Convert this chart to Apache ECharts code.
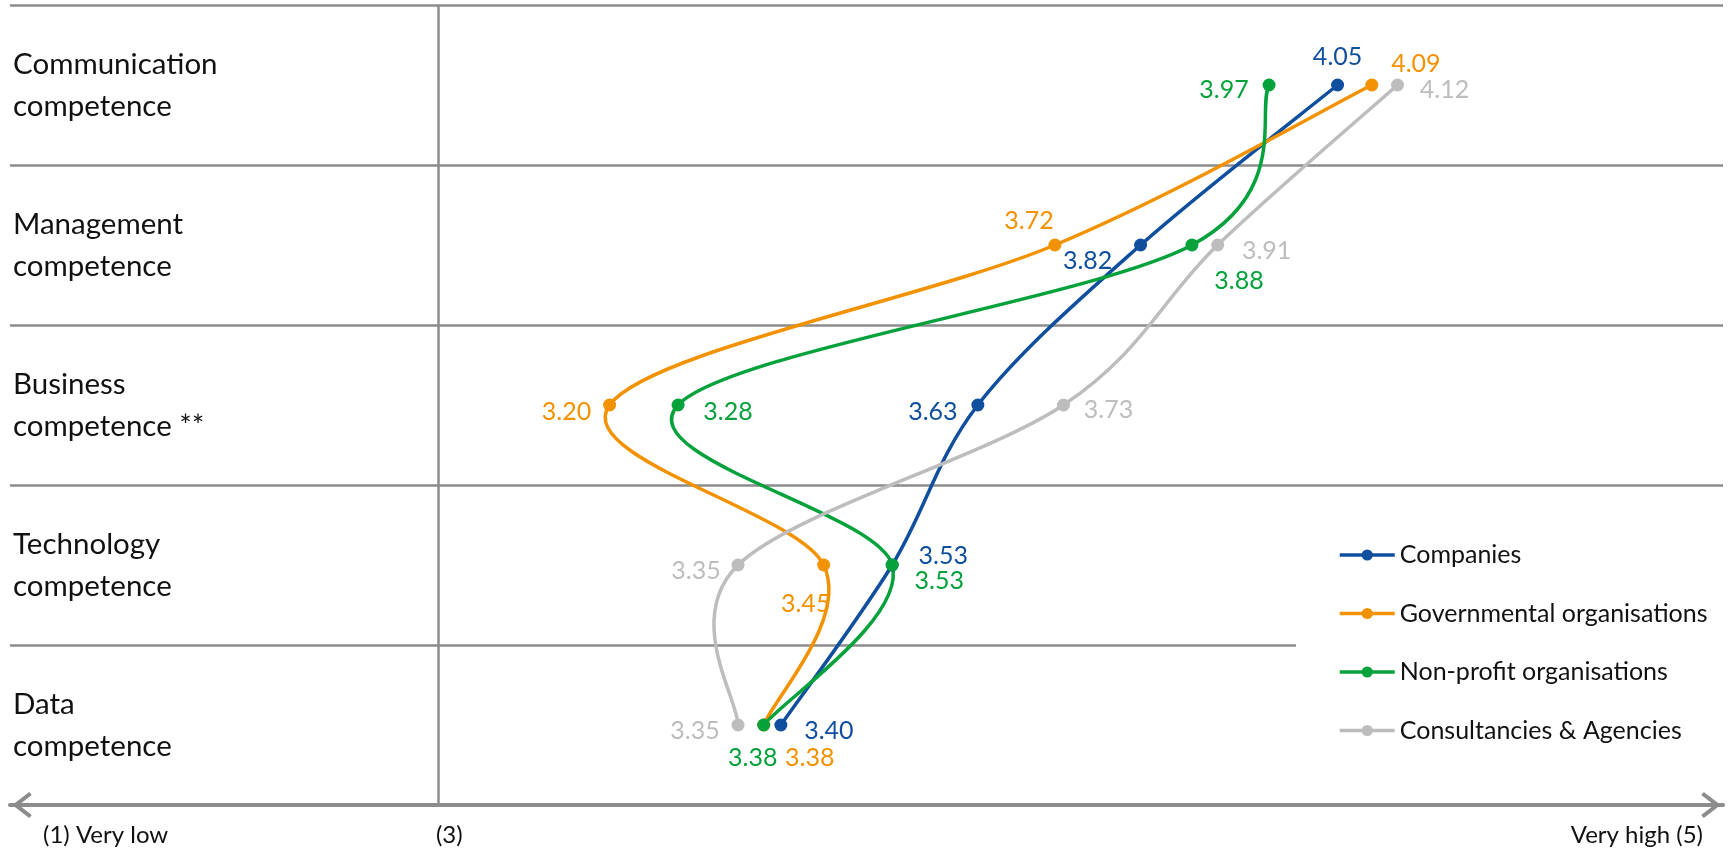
<!DOCTYPE html>
<html>
<head>
<meta charset="utf-8">
<title>Competence profiles by organisation type</title>
<script src="https://cdn.jsdelivr.net/npm/echarts@6/dist/echarts.min.js"></script>
<style>
  html, body { margin: 0; padding: 0; background: #ffffff; }
  #chart { width: 1729px; height: 849px; }
</style>
</head>
<body>
<div id="chart"></div>
<script>
// Competence areas, top to bottom
const categories = [
  'Communication competence',
  'Management competence',
  'Business competence **',
  'Technology competence',
  'Data competence'
];

// Mean self-assessment per organisation type (scale 1–5)
const companies     = [4.05, 3.82, 3.63, 3.53, 3.40];
const governmental  = [4.09, 3.72, 3.20, 3.45, 3.38];
const nonProfit     = [3.97, 3.88, 3.28, 3.53, 3.38];
const consultancies = [4.12, 3.91, 3.73, 3.35, 3.35];

const seriesNames = [
  'Companies',
  'Governmental organisations',
  'Non-profit organisations',
  'Consultancies & Agencies'
];

// Scale captions under the axis
const scaleLow  = '(1) Very low';
const scaleMid  = '(3)';
const scaleHigh = 'Very high (5)';

// Styling
const colors = ['#0f4f9e', '#f39200', '#05a23c', '#bdbdbd'];
const gridGray = '#8c8c8c';
const FONT = 'Lato, "Open Sans", sans-serif';

// Where each value label sits relative to its marker [dx, dy]
const labelOffsets = [
  [[0, -28], [-53, 16], [-45, 7], [51, -9], [48, 6]],
  [[44, -21], [-26, -24], [-43, 7], [-18, 39], [46, 33]],
  [[-45, 5], [47, 36], [50, 7], [47, 16], [-11, 33]],
  [[47, 5], [49, 6], [45, 5], [-42, 6], [-43, 6]]
];

const valueSets = [companies, governmental, nonProfit, consultancies];

// Open chevron used for both ends of the scale arrow (points up, rotated by the axis)
const chevron = 'path://M13,0 L26,17 L23,19.5 L13,6.6 L3,19.5 L0,17 Z';

// Cardinal (Catmull-Rom) bezier segments through pixel points
function curveSegments(pts) {
  const segs = [];
  for (let i = 0; i < pts.length - 1; i++) {
    const p0 = pts[i - 1] || pts[i];
    const p1 = pts[i];
    const p2 = pts[i + 1];
    const p3 = pts[i + 2] || pts[i + 1];
    segs.push({
      x1: p1[0], y1: p1[1],
      cpx1: p1[0] + (p2[0] - p0[0]) / 6, cpy1: p1[1] + (p2[1] - p0[1]) / 6,
      cpx2: p2[0] - (p3[0] - p1[0]) / 6, cpy2: p2[1] - (p3[1] - p1[1]) / 6,
      x2: p2[0], y2: p2[1]
    });
  }
  return segs;
}

// Markers with value labels (the connecting curve is drawn by the curve series)
const pointSeries = valueSets.map((vals, s) => ({
  name: seriesNames[s],
  type: 'line',
  symbol: 'circle',
  symbolSize: 13,
  color: colors[s],
  lineStyle: { width: 3.5, color: colors[s], opacity: 0 },
  itemStyle: { color: colors[s] },
  z: 3 + s,
  label: {
    show: true,
    position: 'inside',
    fontFamily: FONT,
    fontSize: 25,
    color: colors[s],
    formatter: p => Number(p.value).toFixed(2)
  },
  data: vals.map((v, i) => ({
    value: v,
    label: { offset: labelOffsets[s][i] }
  })),
  markLine: s === 0 ? {
    silent: true,
    symbol: 'none',
    label: { show: false },
    lineStyle: { color: gridGray, width: 2.5, type: 'solid', opacity: 1 },
    data: [{ xAxis: 3 }]
  } : undefined
}));

// Smoothed connecting curves, positioned through the chart's axes
const curveSeries = valueSets.map((vals, s) => ({
  name: seriesNames[s],
  type: 'custom',
  z: 2,
  silent: true,
  color: colors[s],
  itemStyle: { color: colors[s] },
  data: [[vals[0], 0]],
  renderItem: (params, api) => {
    const pts = vals.map((v, i) => api.coord([v, i]));
    return {
      type: 'group',
      children: curveSegments(pts).map(seg => ({
        type: 'bezierCurve',
        shape: seg,
        style: { stroke: colors[s], lineWidth: 3.5, fill: null, lineCap: 'round' }
      }))
    };
  }
}));

const chart = echarts.init(document.getElementById('chart'), null, { renderer: 'canvas' });

chart.setOption({
  animation: false,
  backgroundColor: '#ffffff',
  textStyle: { fontFamily: FONT },
  grid: { left: 10, right: 6, top: 5, height: 800, containLabel: false },
  legend: {
    orient: 'vertical',
    left: 1296,
    top: 502,
    padding: [40, 20, 40, 42],
    backgroundColor: '#ffffff',
    itemWidth: 55,
    itemHeight: 14,
    itemGap: 32.5,
    lineStyle: { opacity: 1, width: 3.5 },
    textStyle: { fontFamily: FONT, fontSize: 25, lineHeight: 26, color: '#111111' },
    data: seriesNames
  },
  xAxis: {
    type: 'value',
    min: 2.5,
    max: 4.5,
    interval: 0.5,
    splitLine: { show: false },
    axisTick: { show: false },
    axisLine: {
      show: true,
      symbol: [chevron, chevron],
      symbolSize: [26, 22],
      symbolOffset: [12, -12],
      lineStyle: { color: gridGray, width: 4 }
    },
    axisLabel: {
      show: true,
      margin: 17,
      fontFamily: FONT,
      fontSize: 24,
      lineHeight: 26,
      color: '#111111',
      alignMinLabel: 'left',
      alignMaxLabel: 'right',
      formatter: v => {
        if (Math.abs(v - 2.5) < 1e-6) return '{lo|' + scaleLow + '}';
        if (Math.abs(v - 3) < 1e-6) return '{mid|' + scaleMid + '}';
        if (Math.abs(v - 4.5) < 1e-6) return '{hi|' + scaleHigh + '}';
        return '';
      },
      rich: {
        lo: { fontFamily: FONT, fontSize: 24, color: '#111111', padding: [0, 0, 0, 33] },
        mid: { fontFamily: FONT, fontSize: 24, color: '#111111', padding: [0, 0, 0, 22] },
        hi: { fontFamily: FONT, fontSize: 24, color: '#111111', padding: [0, 20, 0, 0] }
      }
    }
  },
  yAxis: {
    type: 'category',
    inverse: true,
    boundaryGap: true,
    data: categories,
    axisLine: { show: false },
    axisTick: { show: false },
    splitLine: { show: true, interval: 0, lineStyle: { color: gridGray, width: 2.5 } },
    axisLabel: {
      inside: true,
      interval: 0,
      margin: 3,
      fontFamily: FONT,
      fontSize: 29.5,
      lineHeight: 42,
      padding: [6, 0, 0, 0],
      color: '#111111',
      align: 'left',
      formatter: name => name.replace(' ', '\n')
    }
  },
  series: pointSeries.concat(curveSeries)
});
</script>
</body>
</html>
